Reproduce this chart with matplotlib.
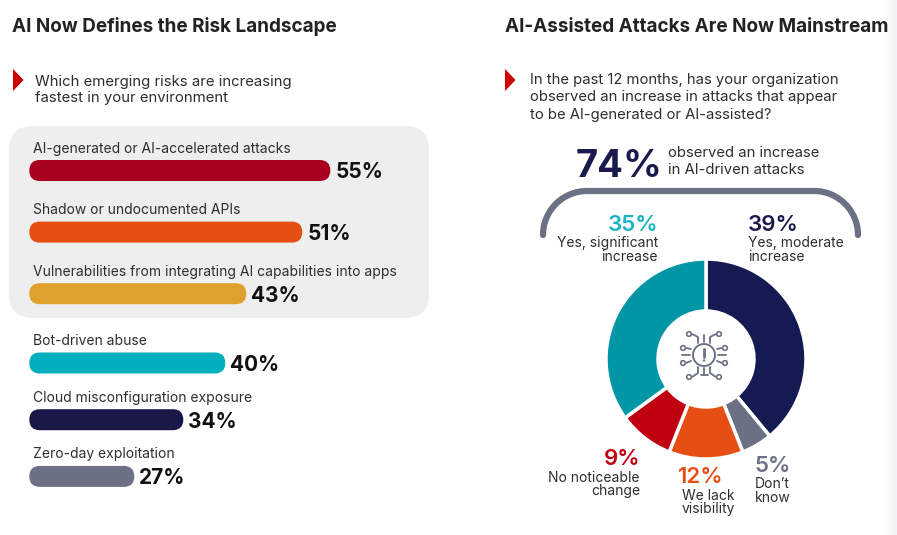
import numpy as np
import matplotlib
matplotlib.use("Agg")
import matplotlib.pyplot as plt
from matplotlib.patches import FancyBboxPatch, Polygon, Circle, PathPatch
from matplotlib.path import Path
from matplotlib.colors import LinearSegmentedColormap

plt.rcParams["font.family"] = ["Inter", "DejaVu Sans"]

# ----------------------------------------------------------------------
# data
# ----------------------------------------------------------------------
risk_labels = [
    "AI-generated or AI-accelerated attacks",
    "Shadow or undocumented APIs",
    "Vulnerabilities from integrating AI capabilities into apps",
    "Bot-driven abuse",
    "Cloud misconfiguration exposure",
    "Zero-day exploitation",
]
risk_values = [55, 51, 43, 40, 34, 27]
risk_colors = ["#a8001f", "#e64f14", "#e0a02e", "#00afbd", "#1a1848", "#6b7084"]

answer_labels = ["Yes, moderate\nincrease", "Don\u2019t\nknow", "We lack\nvisibility",
                 "No noticeable\nchange", "Yes, significant\nincrease"]
answer_values = [39, 5, 12, 9, 35]
answer_colors = ["#141a52", "#6b7084", "#e64f14", "#c00010", "#0096a6"]
answer_text_colors = ["#1b1a4e", "#6b7084", "#e64f14", "#c00010", "#1cb3c3"]
total_increase = 74

TXT = "#2e2e2e"
TITLE = "#222222"
GREY = "#6b7084"
RED = "#cc0000"

W, H = 897, 535
fig = plt.figure(figsize=(W / 100, H / 100), dpi=100)

# background / annotation layer in pixel units
bg = fig.add_axes([0, 0, 1, 1])
bg.axis("off")

# faint shade on the right edge
shade = LinearSegmentedColormap.from_list("shade", ["#ffffff", "#f3f3f6"])
bg.imshow(np.linspace(0, 1, 60).reshape(1, -1), extent=[882, 897, H, 0],
          cmap=shade, aspect="auto", zorder=0)
bg.set_xlim(0, W)
bg.set_ylim(H, 0)

# ----------------------------------------------------------------------
# left panel
# ----------------------------------------------------------------------
bg.text(12, 32, "AI Now Defines the Risk Landscape", fontsize=13.6,
        fontweight="bold", color=TITLE, va="baseline")
bg.add_patch(Polygon([(13, 69), (23.5, 80), (13, 91)], closed=True, fc=RED, ec="none"))
bg.text(35, 86, "Which emerging risks are increasing", fontsize=10.75, color=TXT, va="baseline")
bg.text(35, 102, "fastest in your environment", fontsize=10.75, color=TXT, va="baseline")

# grey highlight box for the top three
bg.add_patch(FancyBboxPatch((9, 126), 420, 192, boxstyle="round,pad=0,rounding_size=24",
                            fc="#eeeeee", ec="none", zorder=1))

BASE = 12          # where the bars start on the value scale
PX_PER_PCT = 7.0
bar_left = 29.3
bar_w = 420
bar_h = 21
row_y = [170.5 + 61.6 * i if i < 3 else 363 + 56.7 * (i - 3) for i in range(len(risk_values))]

bax = fig.add_axes([bar_left / W, 0, bar_w / W, 1])
bax.set_xlim(BASE, BASE + bar_w / PX_PER_PCT)
bax.set_ylim(H, 0)
bax.axis("off")
bax.patch.set_alpha(0)

bars = bax.barh(row_y, [v - BASE for v in risk_values], left=BASE, height=bar_h)
for b, c, v, lab, y in zip(bars, risk_colors, risk_values, risk_labels, row_y):
    x0, y0, bw, bh = b.get_x(), b.get_y(), b.get_width(), b.get_height()
    b.remove()
    r = bh / 2 / PX_PER_PCT
    bax.add_patch(FancyBboxPatch((x0, y0), bw, bh,
                                 boxstyle=f"round,pad=0,rounding_size={r}",
                                 mutation_aspect=PX_PER_PCT, fc=c, ec="none"))
    bax.annotate(f"{v}%", xy=(v, y + 7.8), xytext=(3.5, 0), textcoords="offset points",
                 fontsize=15, fontweight="bold", color="#111111", va="baseline")
    bg.text(33, y - 18, lab, fontsize=10, color=TXT, va="baseline")

# ----------------------------------------------------------------------
# right panel
# ----------------------------------------------------------------------
bg.text(505, 32, "AI-Assisted Attacks Are Now Mainstream", fontsize=13.6,
        fontweight="bold", color=TITLE, va="baseline")
bg.add_patch(Polygon([(505, 69), (515.5, 80), (505, 91)], closed=True, fc=RED, ec="none"))
for i, line in enumerate(["In the past 12 months, has your organization",
                          "observed an increase in attacks that appear",
                          "to be AI-generated or AI-assisted?"]):
    bg.text(530, 84 + 17.5 * i, line, fontsize=10.7, color=TXT, va="baseline")

bg.text(576, 177, f"{total_increase}%", fontsize=27.5, fontweight="bold",
        color="#1b1a4e", va="baseline")
bg.text(668, 157, "observed an increase", fontsize=10.7, color=TXT, va="baseline")
bg.text(668, 174, "in AI-driven attacks", fontsize=10.7, color=TXT, va="baseline")

# bracket over the two "yes" answers
k = 0.5523 * 44
verts = [(543, 235), (543, 235 - k), (587 - k, 191), (587, 191),
         (814, 191),
         (814 + k, 191), (858, 235 - k), (858, 235)]
codes = [Path.MOVETO, Path.CURVE4, Path.CURVE4, Path.CURVE4,
         Path.LINETO,
         Path.CURVE4, Path.CURVE4, Path.CURVE4]
bg.add_patch(PathPatch(Path(verts, codes), fc="none", ec=GREY, lw=4.5, capstyle="round"))

# donut
cx, cy, R = 706, 359, 100
pax = fig.add_axes([(cx - R) / W, 1 - (cy + R) / H, 2 * R / W, 2 * R / H])
pax.pie(answer_values, colors=answer_colors, startangle=90, counterclock=False,
        radius=1.0, wedgeprops=dict(width=0.52, edgecolor="white", linewidth=2.5))
pax.set_xlim(-1, 1)
pax.set_ylim(-1, 1)
pax.patch.set_alpha(0)

# labels around the donut: (x, baseline, alignment)
label_pos = [(748, 231, "left"), (755, 472, "left"), (678, 483, "left"),
             (640, 465, "right"), (658, 231, "right")]
for v, lab, col, (x, y, ha) in zip(answer_values, answer_labels, answer_text_colors, label_pos):
    bg.text(x, y, f"{v}%", fontsize=16, fontweight="semibold", color=col,
            ha=ha, va="baseline")
    sub_x = x + (4 if v == 12 else 0)
    for j, line in enumerate(lab.split("\n")):
        bg.text(sub_x, y + 16.5 + 13.5 * j, line, fontsize=10, color=TXT,
                ha=ha, va="baseline")

# circuit / alert icon in the donut hole
ic = dict(color=GREY, lw=1.3, solid_capstyle="round")
ix, iy = 704, 355
bg.add_patch(Circle((ix, iy), 11, fc="none", ec=GREY, lw=1.4))
bg.plot([ix, ix], [iy - 6, iy + 2], color=GREY, lw=2, solid_capstyle="round")
bg.add_patch(Circle((ix, iy + 5.5), 1.2, fc=GREY, ec="none"))
for s in (-1, 1):
    # upper and lower elbow leads
    bg.plot([ix + 6 * s, ix + 6 * s, ix + 12 * s], [iy - 12, iy - 18, iy - 21], **ic)
    bg.add_patch(Circle((ix + 15 * s, iy - 21), 2.3, fc="none", ec=GREY, lw=1.2))
    bg.plot([ix + 6 * s, ix + 6 * s, ix + 12 * s], [iy + 12, iy + 18, iy + 22], **ic)
    bg.add_patch(Circle((ix + 15 * s, iy + 22), 2.3, fc="none", ec=GREY, lw=1.2))
    # side leads
    bg.plot([ix + 13 * s, ix + 18 * s], [iy - 6, iy - 7], **ic)
    bg.add_patch(Circle((ix + 21 * s, iy - 7), 2.3, fc="none", ec=GREY, lw=1.2))
    bg.plot([ix + 13 * s, ix + 18 * s], [iy + 6, iy + 8], **ic)
    bg.add_patch(Circle((ix + 21 * s, iy + 8), 2.3, fc="none", ec=GREY, lw=1.2))
    bg.plot([ix + 14 * s, ix + 22 * s], [iy, iy], **ic)
bg.plot([ix, ix], [iy - 13, iy - 20], **ic)
bg.plot([ix, ix], [iy + 13, iy + 20], **ic)
bg.plot([ix - 3.5, ix + 3.5], [iy + 20, iy + 20], **ic)

fig.savefig("out.png", dpi=100)
